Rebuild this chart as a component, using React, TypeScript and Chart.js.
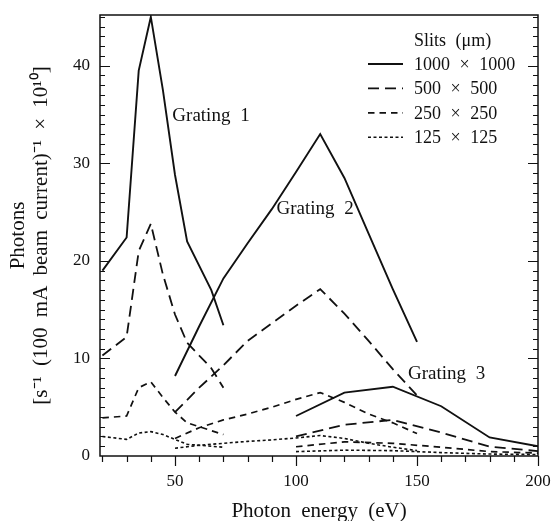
import React, { useEffect, useRef } from 'react';
import { Chart, registerables } from 'chart.js';

Chart.register(...registerables);

const FONT = '"Liberation Serif", "Times New Roman", Times, serif';
const INK = '#111';

// ---- data ----
const energyG1 = [20, 30, 35, 40, 45, 50, 55, 65, 70];
const g1Slit1000 = [19, 22.4, 39.5, 45, 37.5, 28.8, 22, 17, 13.4];
const g1Slit500 = [10.3, 12.2, 21, 23.8, 18.6, 14.5, 11.6, 9, 7];
const g1Slit250 = [3.9, 4.1, 7, 7.6, 6, 4.5, 3.4, 2.6, 2.2];
const g1Slit125 = [2, 1.7, 2.35, 2.5, 2.2, 1.7, 1.2, 1, 0.9];

const energyG2 = [50, 60, 70, 80, 90, 100, 110, 120, 130, 140, 150];
const g2Slit1000 = [8.2, 13.3, 18.2, 21.8, 25.3, 29.1, 33, 28.5, 22.8, 17.1, 11.7];
const g2Slit500 = [4.5, 7, 9.3, 11.8, 13.6, 15.4, 17.1, 14.6, 11.8, 8.9, 6.2];
const g2Slit250 = [1.8, 2.9, 3.7, 4.3, 5, 5.8, 6.5, 5.5, 4.3, 3.4, 2.3];
const g2Slit125 = [0.8, 1.1, 1.3, 1.5, 1.65, 1.85, 2.1, 1.8, 1.3, 0.9, 0.55];

const energyG3 = [100, 120, 140, 160, 180, 200];
const g3Slit1000 = [4.1, 6.5, 7.1, 5.1, 1.9, 1.0];
const g3Slit500 = [2.0, 3.2, 3.7, 2.4, 0.95, 0.5];
const g3Slit250 = [0.95, 1.45, 1.3, 0.9, 0.45, 0.3];
const g3Slit125 = [0.45, 0.6, 0.55, 0.35, 0.2, 0.15];

const xTickLabels = [50, 100, 150, 200];
const yTickLabels = [0, 10, 20, 30, 40];

const legendTitle = 'Slits (\u03bcm)';
const slitNames = ['1000 \u00d7 1000', '500 \u00d7 500', '250 \u00d7 250', '125 \u00d7 125'];

const gratingNames = ['Grating 1', 'Grating 2', 'Grating 3'];
const gratingAnchors = [
  [48.9, 34.35],
  [91.9, 24.76],
  [146.3, 7.86],
];

// ---- styles ----
const dashes: number[][] = [[], [11, 6], [6.5, 5], [3, 2.5]];
const widths = [1.9, 1.8, 1.7, 1.6];

const pts = (xs: number[], ys: number[]) => xs.map((x, i) => ({ x, y: ys[i] }));

const seriesSets = [
  [energyG1, [g1Slit1000, g1Slit500, g1Slit250, g1Slit125]],
  [energyG2, [g2Slit1000, g2Slit500, g2Slit250, g2Slit125]],
  [energyG3, [g3Slit1000, g3Slit500, g3Slit250, g3Slit125]],
] as [number[], number[][]][];

const spacingPlugin = {
  id: 'wordSpacing',
  beforeDraw(chart: any) {
    try {
      (chart.ctx as any).wordSpacing = '5px';
    } catch (e) {
      /* ignore */
    }
  },
};

const framePlugin = {
  id: 'frameTicks',
  afterDraw(chart: any) {
    const { ctx, chartArea, scales } = chart;
    const { left, right, top, bottom } = chartArea;
    const xs = scales.x;
    const ys = scales.y;
    ctx.save();
    ctx.strokeStyle = INK;
    ctx.lineWidth = 1.5;
    ctx.strokeRect(left, top, right - left, bottom - top);
    ctx.lineWidth = 1.2;
    ctx.beginPath();
    for (let v = 1; v <= 45; v++) {
      const py = Math.round(ys.getPixelForValue(v)) + 0.5;
      const len = v % 10 === 0 ? 10 : 5;
      ctx.moveTo(left, py);
      ctx.lineTo(left + len, py);
      ctx.moveTo(right, py);
      ctx.lineTo(right - len, py);
    }
    for (let e = 20; e <= 200; e += 10) {
      const px = Math.round(xs.getPixelForValue(e)) + 0.5;
      const len = e % 50 === 0 ? 10 : 6;
      ctx.moveTo(px, bottom);
      ctx.lineTo(px, bottom + len);
    }
    ctx.stroke();

    // grating labels
    ctx.fillStyle = INK;
    ctx.font = `19px ${FONT}`;
    ctx.textBaseline = 'alphabetic';
    ctx.textAlign = 'left';
    gratingNames.forEach((name, i) => {
      const [ex, vy] = gratingAnchors[i];
      ctx.fillText(name, xs.getPixelForValue(ex), ys.getPixelForValue(vy));
    });

    // legend
    ctx.font = `18px ${FONT}`;
    const textX = right - 124;
    ctx.fillText(legendTitle, textX, top + 30.7);
    slitNames.forEach((name, i) => {
      const base = top + 55 + i * 24.4;
      ctx.fillText(name, textX, base);
      ctx.save();
      ctx.setLineDash(dashes[i]);
      ctx.lineWidth = widths[i];
      ctx.beginPath();
      ctx.moveTo(right - 170, base - 6);
      ctx.lineTo(right - 135, base - 6);
      ctx.stroke();
      ctx.restore();
    });
    ctx.restore();
  },
};

export default function App() {
  const ref = useRef<HTMLCanvasElement>(null);
  useEffect(() => {
    const datasets: any[] = [];
    seriesSets.forEach(([xs, list], g) => {
      list.forEach((ys, s) => {
        datasets.push({
          label: `G${g + 1} ${slitNames[s]}`,
          data: pts(xs, ys),
          borderColor: INK,
          borderWidth: widths[s],
          borderDash: dashes[s],
          pointRadius: 0,
          fill: false,
          tension: 0,
        });
      });
    });
    const zeroPad = (s: any) => {
      s.paddingLeft = 0;
      s.paddingRight = 0;
      s.paddingTop = 0;
      s.paddingBottom = 0;
    };
    const chart = new Chart(ref.current as HTMLCanvasElement, {
      type: 'line',
      data: { datasets },
      plugins: [spacingPlugin, framePlugin],
      options: {
        animation: false,
        responsive: false,
        layout: { padding: { top: 15, right: 13, left: 0, bottom: 0 } },
        plugins: { legend: { display: false }, tooltip: { enabled: false } },
        scales: {
          x: {
            type: 'linear',
            min: 19,
            max: 200,
            grid: { display: false, drawTicks: false },
            border: { display: false },
            ticks: { font: { family: FONT, size: 17 }, color: INK, padding: 15, maxRotation: 0 },
            afterBuildTicks: (s: any) => {
              s.ticks = xTickLabels.map((v) => ({ value: v }));
            },
            afterFit: (s: any) => {
              s.height = 65;
              zeroPad(s);
            },
            title: {
              display: true,
              text: 'Photon energy (eV)',
              color: INK,
              font: { family: FONT, size: 21, lineHeight: 0.86 },
              padding: 0,
            },
          },
          y: {
            type: 'linear',
            min: 0,
            max: 45.2,
            grid: { display: false, drawTicks: false },
            border: { display: false },
            ticks: { font: { family: FONT, size: 17 }, color: INK, padding: 10 },
            afterBuildTicks: (s: any) => {
              s.ticks = yTickLabels.map((v) => ({ value: v }));
            },
            afterFit: (s: any) => {
              s.width = 100;
              zeroPad(s);
            },
            title: {
              display: true,
              text: ['Photons', '[s\u207b\u00b9 (100 mA beam current)\u207b\u00b9 \u00d7 10\u00b9\u2070]'],
              color: INK,
              font: { family: FONT, size: 21, lineHeight: 1.1 },
              padding: { top: 6.5, bottom: 0 },
            },
          },
        },
      },
    });
    return () => chart.destroy();
  }, []);
  return (
    <div style={{ position: 'fixed', left: 0, top: 0, width: 551, height: 521, background: '#fff' }}>
      <canvas ref={ref} width={551} height={521} style={{ display: 'block' }} />
    </div>
  );
}
